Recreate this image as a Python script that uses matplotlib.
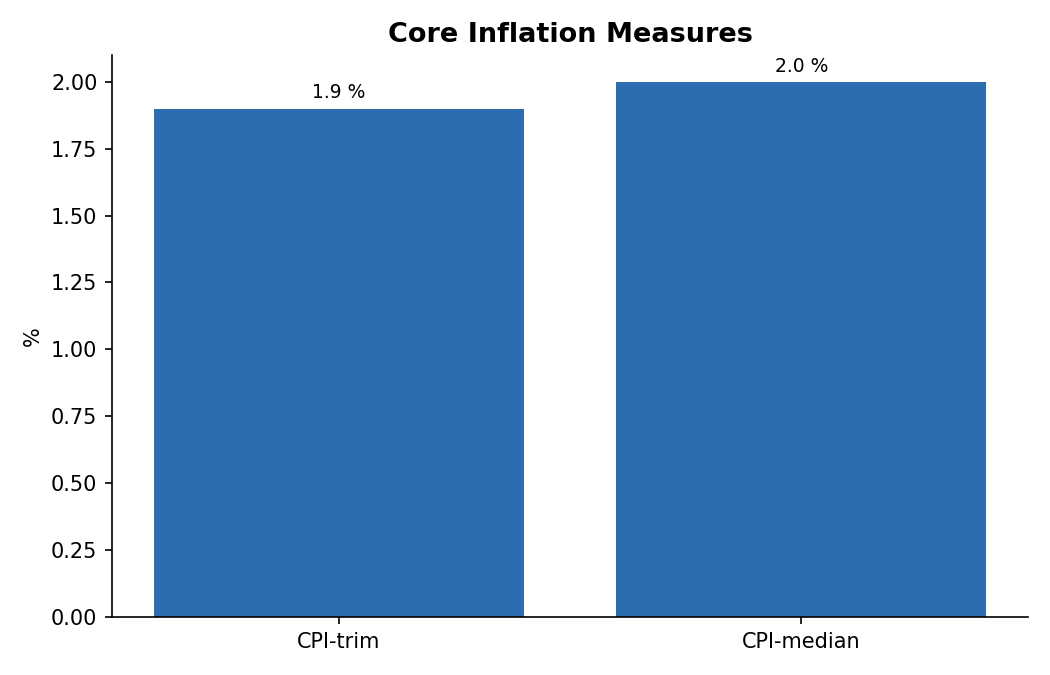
import matplotlib
matplotlib.use("Agg")
import matplotlib.pyplot as plt

categories = ["CPI-trim", "CPI-median"]
values = [1.9, 2.0]
bar_labels = ["1.9 %", "2.0 %"]

fig = plt.figure(figsize=(7, 4.5), dpi=150)
ax = fig.add_axes([112/1050, 1 - 617/675, (1028-112)/1050, (617-55)/675])
bars = ax.bar(categories, values, width=0.8, color="#2c6db0")
ax.bar_label(bars, labels=bar_labels, padding=3, fontsize=9)
ax.set_title("Core Inflation Measures", fontsize=13, fontweight="bold")
ax.set_ylabel("%", fontsize=10)
ax.tick_params(labelsize=10)
ax.spines["top"].set_visible(False)
ax.spines["right"].set_visible(False)
fig.savefig("out.png", dpi=150)
